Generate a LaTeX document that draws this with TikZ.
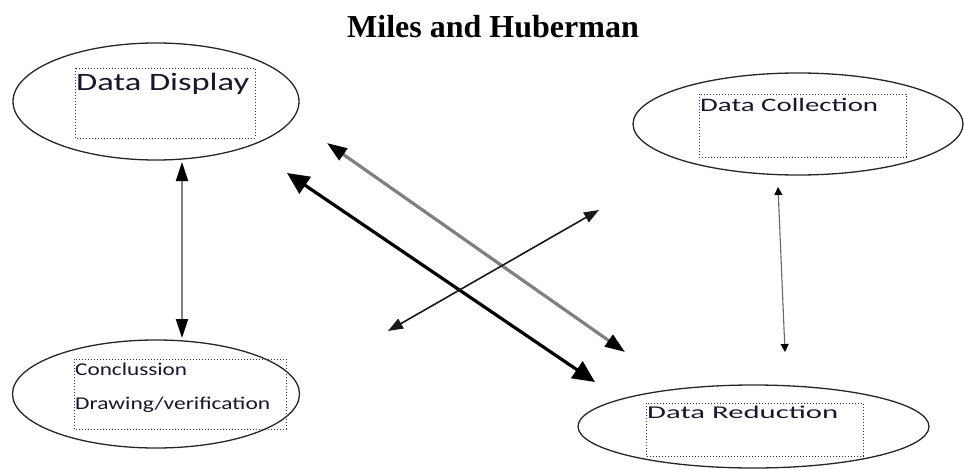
\documentclass[tikz,border=0pt]{standalone}
\usepackage{fontspec}
\usepackage{graphicx}
\setmainfont{Liberation Serif}
\newfontfamily\carl{Carlito}
\usetikzlibrary{arrows.meta,shapes.geometric}
\definecolor{txt}{RGB}{22,22,45}
\newcommand\wtext[3]{\resizebox{#1}{\height}{\fontsize{#2}{#2}\selectfont\carl #3}}
\begin{document}
\begin{tikzpicture}[x=1pt,y=-1pt,
  oval/.style={draw=black!85, line width=1.3pt, ellipse, inner sep=0pt},
  dotbox/.style={draw=black!80, line width=0.9pt, dash pattern=on 0.9pt off 2.1pt},
  lbl/.style={anchor=base west, inner sep=0pt, text=txt},
  grayline/.style={draw=black!50, line width=3.2pt, {Triangle[length=20pt,width=14pt,color=black]}-{Triangle[length=20pt,width=14pt,color=black]}},
  blackline/.style={draw=black, line width=3.2pt, {Triangle[length=22pt,width=20pt]}-{Triangle[length=22pt,width=20pt]}},
  thinline/.style={draw=black!90, line width=1.6pt, {Triangle[length=15pt,width=11pt]}-{Triangle[length=15pt,width=11pt]}},
  vline/.style={draw=black!50, line width=2.2pt, {Triangle[length=19pt,width=12pt,color=black]}-{Triangle[length=19pt,width=12pt,color=black]}},
  rline/.style={draw=black!60, line width=1.1pt, {Triangle[length=8pt,width=8pt,color=black]}-{Triangle[length=8pt,width=8pt,color=black]}},
]
\useasboundingbox (0,0) rectangle (965,468);

% title
\node[anchor=base, inner sep=0pt] (title) at (493,38) {\fontsize{32}{32}\selectfont\bfseries Miles and Huberman};

% ellipses
\node[oval, minimum width=286pt, minimum height=117pt] (display) at (156,101.5) {};
\node[oval, minimum width=330pt, minimum height=102pt] (collection) at (798,124) {};
\node[oval, minimum width=351pt, minimum height=83pt] (reduction) at (753.5,426.5) {};
\node[oval, minimum width=287pt, minimum height=108pt] (conclusion) at (156,394) {};

% dotted text boxes
\draw[dotbox] (75,68) rectangle (255,138);
\draw[dotbox] (699,94) rectangle (906,157);
\draw[dotbox] (646,403) rectangle (863,456);
\draw[dotbox] (74,359) rectangle (286,429);

% labels
\node[lbl] (tdisplay) at (76,90) {\wtext{173pt}{25}{Data Display}};
\node[lbl] (tcollection) at (700,112) {\wtext{178pt}{19}{Data Collection}};
\node[lbl] (treduction) at (647,418) {\wtext{191pt}{18}{Data Reduction}};
\node[lbl] (tconc1) at (75,375) {\wtext{112pt}{18}{Conclussion}};
\node[lbl] (tconc2) at (75,409) {\wtext{195pt}{18}{Drawing/verification}};

% arrow end points
\coordinate (v1) at (182,162);
\coordinate (v2) at (182,338);
\coordinate (g1) at (327,143);
\coordinate (g2) at (625,352);
\coordinate (b1) at (287,173);
\coordinate (b2) at (595,382);
\coordinate (t1) at (388,331);
\coordinate (t2) at (599,210);
\coordinate (r1) at (778,187);
\coordinate (r2) at (785,352);

\draw[vline] (v1) -- (v2);
\draw[grayline] (g1) -- (g2);
\draw[blackline] (b1) -- (b2);
\draw[thinline] (t1) -- (t2);
\draw[rline] (r1) -- (r2);
\end{tikzpicture}
\end{document}
